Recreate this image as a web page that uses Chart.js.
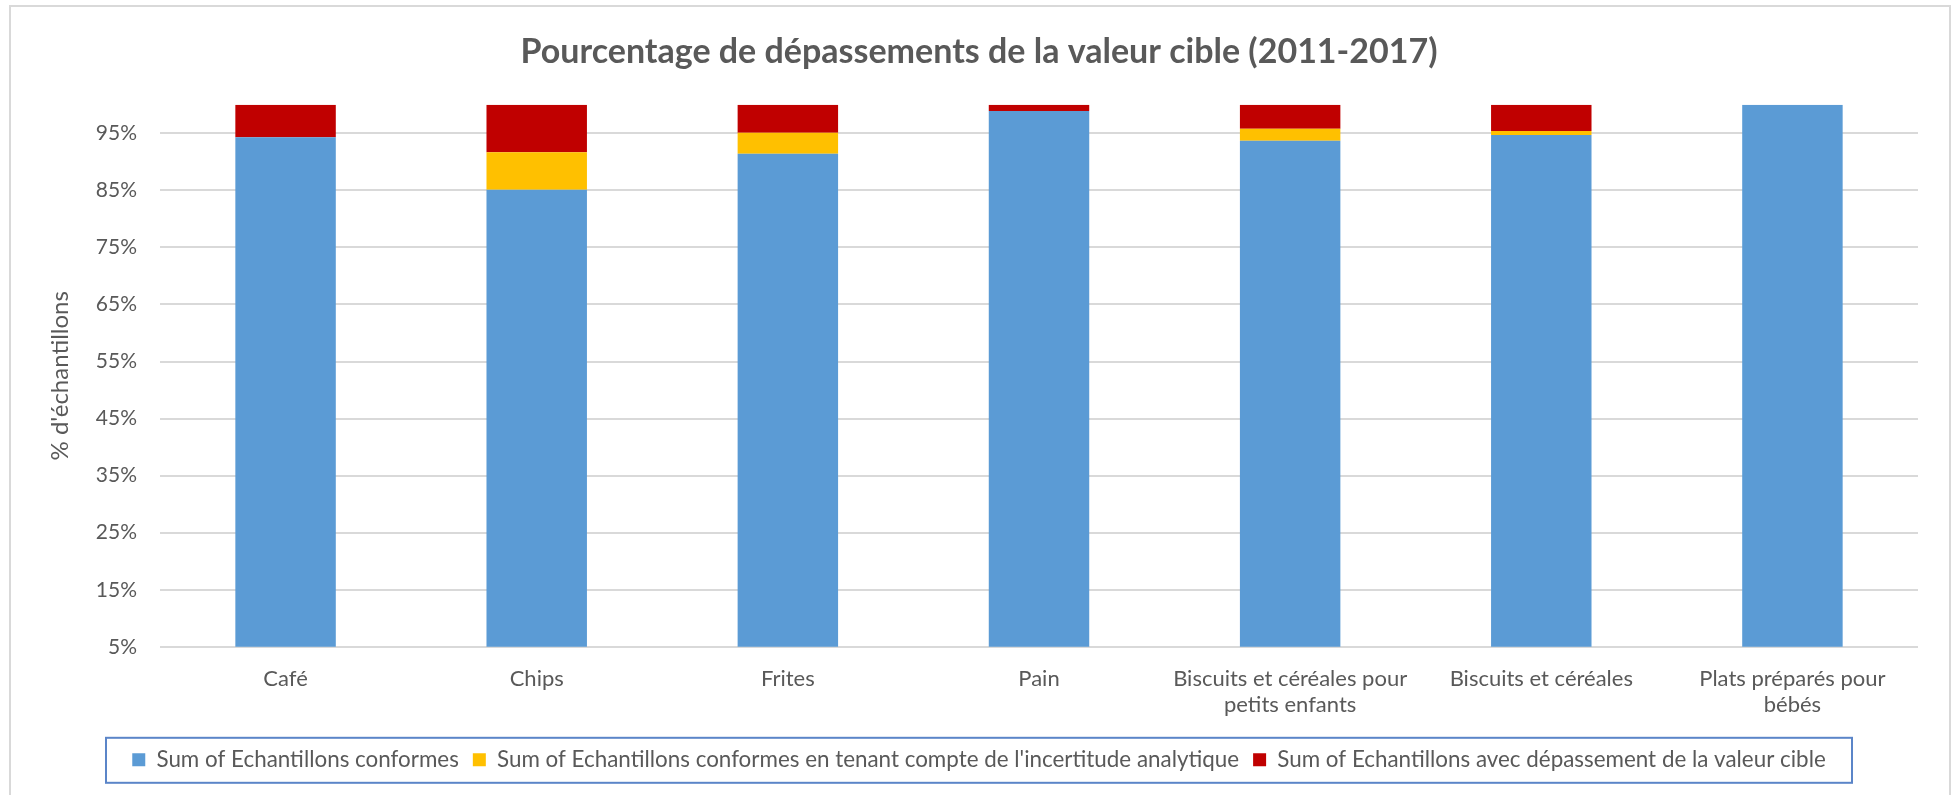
<!DOCTYPE html>
<html>
<head>
<meta charset="utf-8">
<script src="https://cdn.jsdelivr.net/npm/chart.js@4.4.1/dist/chart.umd.min.js"></script>
<style>
  body { margin: 0; background: #fff; }
  #frame {
    position: absolute; left: 9px; top: 5px; width: 1938px; height: 800px;
    border: 2px solid #d9d9d9;
  }
  #wrap { position: absolute; left: 0; top: 0; width: 1955px; height: 795px; }
</style>
</head>
<body>
<div id="frame"></div>
<div id="wrap"><canvas id="chart-canvas"></canvas></div>
<script>
// categories and series
let categories = [
  "Café",
  "Chips",
  "Frites",
  "Pain",
  ["Biscuits et céréales pour", "petits enfants"],
  "Biscuits et céréales",
  ["Plats préparés pour", "bébés"],
];
let conformes = [94.3, 85.1, 91.4, 98.9, 93.7, 94.7, 100];
let conformesIncertitude = [0, 6.6, 3.7, 0, 2.1, 0.7, 0];
let depassement = [5.7, 8.3, 4.9, 1.1, 4.2, 4.6, 0];
let yTicks = [5, 15, 25, 35, 45, 55, 65, 75, 85, 95];

let textColor = "#595959";
let fontName = "Lato, 'Open Sans', sans-serif";

// box round the legend, like Excel draws it
let legendBox = {
  id: "legendBox",
  afterDraw: function (chart) {
    let lg = chart.legend;
    let mid = lg.legendHitBoxes.length ? lg.legendHitBoxes[0].top + lg.legendHitBoxes[0].height / 2 : lg.top + lg.height / 2;
    let c = chart.ctx;
    c.save();
    c.strokeStyle = "#5b85c8";
    c.lineWidth = 2;
    c.strokeRect(106, mid - 22, 1746, 45);
    c.restore();
  },
};

let ctx = document.getElementById("chart-canvas").getContext("2d");

let chart1 = new Chart(ctx, {
  type: "bar",
  data: {
    labels: categories,
    datasets: [
      {
        label: "Sum of Echantillons conformes",
        data: conformes,
        backgroundColor: "#5b9bd5",
      },
      {
        label: "Sum of Echantillons conformes en tenant compte de l'incertitude analytique",
        data: conformesIncertitude,
        backgroundColor: "#ffc000",
      },
      {
        label: "Sum of Echantillons avec dépassement de la valeur cible",
        data: depassement,
        backgroundColor: "#c00000",
      },
    ],
  },
  options: {
    responsive: true,
    maintainAspectRatio: false,
    animation: false,
    layout: { padding: { left: 40, right: 37, top: 20, bottom: 14 } },
    datasets: { bar: { categoryPercentage: 1, barPercentage: 0.4 } },
    plugins: {
      title: {
        display: true,
        text: "Pourcentage de dépassements de la valeur cible (2011-2017)",
        color: textColor,
        font: { family: fontName, size: 34, weight: "bold" },
        padding: { top: 12, bottom: 32 },
      },
      legend: {
        position: "bottom",
        labels: {
          color: textColor,
          font: { family: fontName, size: 22.4 },
          boxWidth: 13,
          boxHeight: 13,
          padding: 14,
        },
      },
      tooltip: { enabled: false },
    },
    scales: {
      x: {
        stacked: true,
        grid: { display: false },
        border: { display: false },
        afterFit: function (scale) {
          scale.height += 5;
        },
        ticks: {
          color: textColor,
          font: { family: fontName, size: 22 },
          maxRotation: 0,
          padding: 11,
        },
      },
      y: {
        stacked: true,
        min: 5,
        max: 100,
        afterBuildTicks: function (scale) {
          scale.ticks = yTicks.map(function (v) {
            return { value: v };
          });
        },
        afterFit: function (scale) {
          scale.width = 120;
        },
        grid: { color: "#d9d9d9", lineWidth: 2, drawTicks: false },
        border: { display: false },
        ticks: {
          color: textColor,
          font: { family: fontName, size: 21 },
          padding: 23,
          callback: function (v) {
            return v + "%";
          },
        },
        title: {
          display: true,
          text: "% d'échantillons",
          color: textColor,
          font: { family: fontName, size: 24 },
          padding: { top: 6, bottom: 0 },
        },
      },
    },
  },
  plugins: [legendBox],
});
</script>
</body>
</html>
